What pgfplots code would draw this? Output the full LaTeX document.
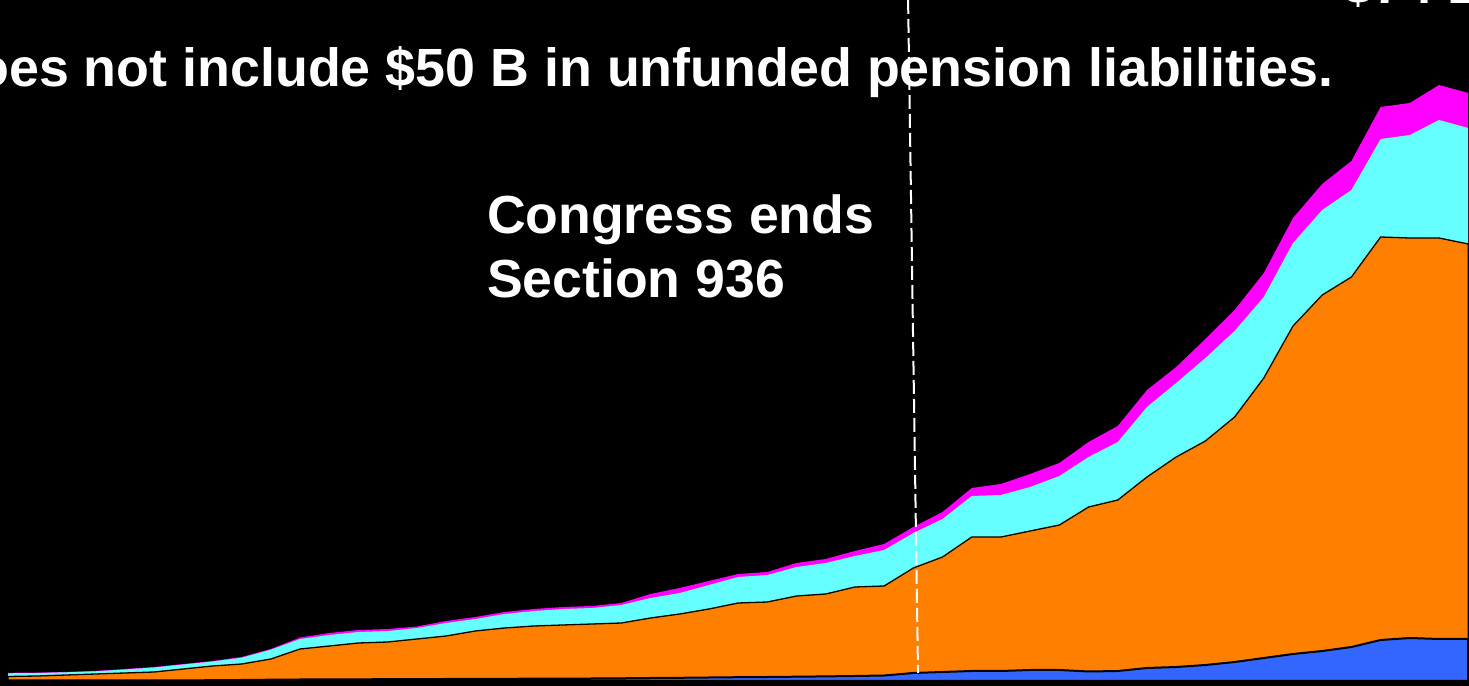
\documentclass[border=0pt]{standalone}
\usepackage{fontspec}
\setmainfont{Liberation Sans}
\usepackage{pgfplots}
\usepackage{pgfplotstable}
\pgfplotsset{compat=1.18}
\definecolor{cblue}{RGB}{51,102,255}
\definecolor{corange}{RGB}{255,128,0}
\definecolor{ccyan}{RGB}{102,255,255}
\definecolor{cmag}{RGB}{255,0,255}
% cumulative stacked tops (blue, +orange, +cyan, +magenta)
\pgfplotstableread{
i B O C M
0 0.5 4.5 7.7 8.2
1 0.5 5 8 8.4
2 0.5 6 8.7 9.1
3 0.5 7 9.7 10.1
4 0.5 8 11.5 12
5 0.5 9 13.5 14
6 0.6 12 16.5 17
7 0.8 15 19.5 20
8 1 17 23.3 24
9 1.3 22 31.3 32
10 1.5 32 42 43.5
11 1.6 35 46 48
12 1.7 38 49 51
13 1.8 39 50 52
14 1.9 42 53 54.5
15 2 45 58 60
16 2.1 50 62 64
17 2.2 53 67 69
18 2.3 55 70 72
19 2.4 56 72 74
20 2.5 57 73 75
21 2.7 58 76 78
22 3 63 83 87
23 3.2 67 88 93
24 3.5 72 96 100
25 3.8 78 104 107
26 4 79 106 109
27 4.3 85 114 118
28 4.6 87 118 122
29 5 94 125 130
30 5.5 95 131 137
31 8 113 148 154
32 9 124 162 169
33 10 144 185 193
34 10 144 186 197
35 11 150 194 207
36 11 156 205 218
37 9.5 174 224 239
38 10 181 239 255
39 13 204 274 291
40 14 224 298 314
41 16 240 323 342
42 19 264 350 371
43 23 303 384 408
44 27 355 438 463
45 30 386 471 497
46 34 404 491 520
47 41 444 542 574
48 43 443 546 578
49 42 443 561 596
50 42 437 553 588
}\debt
\begin{document}
\begin{tikzpicture}
\useasboundingbox (0,0) rectangle (734.5pt,343pt);
\clip (0,0) rectangle (734.5pt,343pt);
\fill[black] (0,0) rectangle (734.5pt,343pt);
\begin{axis}[
  at={(0pt,0pt)}, anchor=south west,
  width=734.5pt, height=343pt, scale only axis,
  hide axis,
  xmin=-0.274, xmax=50.026, ymin=-5, ymax=681,
]
\addplot[fill=cmag, draw=none] table[x=i,y=M]{\debt} \closedcycle;
\addplot[fill=ccyan, draw=none] table[x=i,y=C]{\debt} \closedcycle;
\addplot[fill=corange, draw=black, line width=0.65pt] table[x=i,y=O]{\debt} \closedcycle;
\addplot[fill=cblue, draw=black, line width=1pt] table[x=i,y=B]{\debt} \closedcycle;
\draw[white, line width=1pt, dash pattern=on 7pt off 2.5pt] (axis cs:30.82,681) -- (axis cs:31.16,8);
\end{axis}
\node[anchor=base west, inner sep=0pt, text=white, font=\fontsize{26.9}{32}\selectfont\bfseries] at (-31.5pt,299.8pt) {Does not include \$50 B in unfunded pension liabilities.};
\node[anchor=base west, inner sep=0pt, text=white, font=\fontsize{26.8}{32}\selectfont\bfseries] at (243.3pt,226pt) {Congress ends};
\node[anchor=base west, inner sep=0pt, text=white, font=\fontsize{26.8}{32}\selectfont\bfseries] at (243.3pt,194pt) {Section 936};
\node[anchor=base west, inner sep=0pt, text=white, font=\fontsize{26.8}{32}\selectfont\bfseries] at (671.5pt,341pt) {\$74 B};
\end{tikzpicture}
\end{document}
